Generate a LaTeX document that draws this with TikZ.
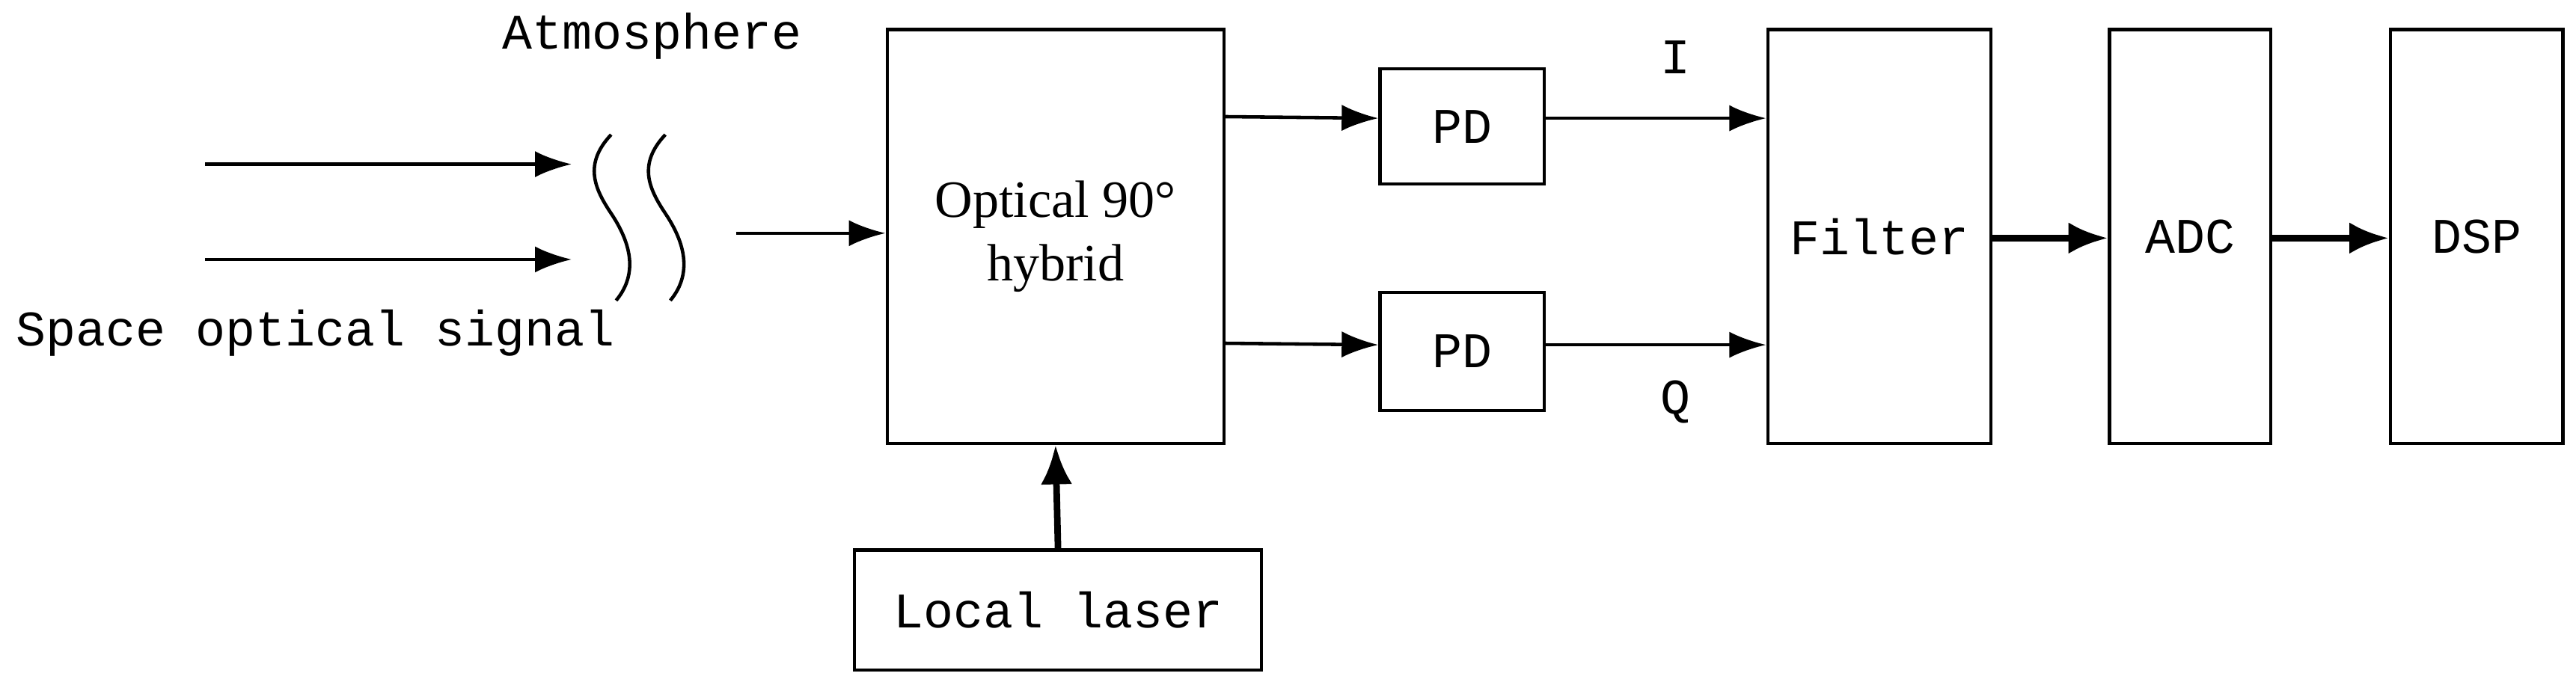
\documentclass[tikz,border=0pt]{standalone}
\usepackage{fontspec}
\setmainfont{Liberation Serif}
\newfontfamily\monofont{Liberation Mono}
\usetikzlibrary{arrows.meta,positioning}
\tikzset{
  blk/.style={draw,line width=2.4pt,minimum width=#1,inner sep=0pt,font=\monofont\fontsize{38}{38}\selectfont},
  thin arr/.style={line width=2.6pt,-{Latex[length=28pt,width=20pt]}},
  bold arr/.style={line width=5pt,-{Latex[length=30pt,width=24pt]}},
  lbl/.style={font=\monofont\fontsize{38}{38}\selectfont}
}
\begin{document}
\begin{tikzpicture}[x=0.044cm,y=-0.044cm]
        \useasboundingbox (0,0) rectangle (1568,417);
        % main boxes
        \node[blk=205*0.044cm,minimum height=252*0.044cm,font=\fontsize{40}{48}\selectfont,align=center] (hyb) at (642.5,144) {Optical 90\textdegree\\hybrid};
        \node[blk=100*0.044cm,minimum height=70*0.044cm] (pdi) at (890,77) {PD};
        \node[blk=100*0.044cm,minimum height=72*0.044cm] (pdq) at (890,214) {PD};
        \node[blk=136*0.044cm,minimum height=252*0.044cm] (filt) at (1144,144) {Filter};
        \node[blk=98*0.044cm,minimum height=252*0.044cm] (adc) at (1333,144) {ADC};
        \node[blk=105*0.044cm,minimum height=252*0.044cm] (dsp) at (1507.5,144) {DSP};
        \node[blk=248*0.044cm,minimum height=73*0.044cm] (laser) at (644,371.5) {Local laser};
        % input side
        \coordinate (s1) at (125,100); \coordinate (e1) at (348,100);
        \coordinate (s2) at (125,158); \coordinate (e2) at (348,158);
        \draw[thin arr] (s1) -- (e1);
        \draw[thin arr] (s2) -- (e2);
        \draw[line width=2.6pt] (372,82) .. controls (355,100) and (362,115) .. (372,130) .. controls (382,145) and (390,165) .. (375,183);
        \draw[line width=2.6pt] (405,82) .. controls (388,100) and (395,115) .. (405,130) .. controls (415,145) and (423,165) .. (408,183);
        \node[lbl] (atm) at (397,22) {Atmosphere};
        \node[lbl] (sig) at (192,203) {Space optical signal};
        \coordinate (s3) at (448,142);
        \draw[thin arr] (s3) -- (hyb.west |- s3);
        % hybrid to PDs
        \draw[thin arr] ([yshift=-54*0.044cm]hyb.north east) -- (pdi.west |- 0,72);
        \draw[thin arr] ([yshift=-192*0.044cm]hyb.north east) -- (pdq.west |- 0,210);
        \draw[thin arr] (pdi.east |- 0,72) -- (filt.west |- 0,72);
        \draw[thin arr] (pdq.east |- 0,210) -- (filt.west |- 0,210);
        \node[lbl] (il) at (1020,35) {I};
        \node[lbl] (ql) at (1020,245) {Q};
        % back end
        \draw[bold arr] (filt.east |- 0,145) -- (adc.west |- 0,145);
        \draw[bold arr] (adc.east |- 0,145) -- (dsp.west |- 0,145);
        \draw[bold arr] (laser.north) -- (hyb.south);
\end{tikzpicture}
\end{document}
